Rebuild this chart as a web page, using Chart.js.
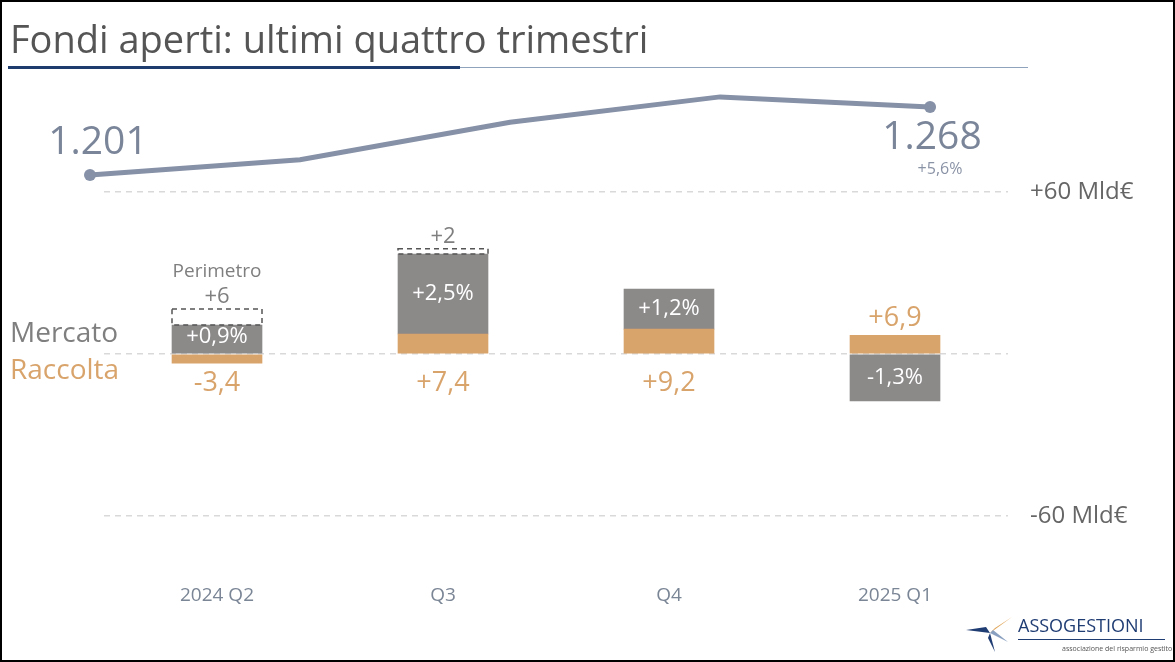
<!DOCTYPE html>
<html><head><meta charset="utf-8">
<script src="https://cdn.jsdelivr.net/npm/chart.js@4"></script>
<style>
html,body{margin:0;padding:0;background:#fff;}
#wrap{position:relative;width:1175px;height:662px;}
#frame{position:absolute;left:0;top:0;width:1171px;height:658px;border:2px solid #000;pointer-events:none;}
</style></head><body>
<div id="wrap"><canvas id="c" width="1175" height="662"></canvas><div id="frame"></div></div>
<script>
const categories = ['2024 Q2','Q3','Q4','2025 Q1'];
const raccolta = [-3.4, 7.4, 9.2, 6.9];
const mercatoStart = [0, 7.4, 9.2, 0];
const mercatoEnd = [10.7, 37.0, 24.0, -17.4];
const perimetro = [6, 2, null, null];
const mercatoPct = ['+0,9%','+2,5%','+1,2%','-1,3%'];
const raccoltaLabels = ['-3,4','+7,4','+9,2','+6,9'];
const patrimonio = [1201, 1216, 1253, 1278, 1268];
const yTicks = [-60, 0, 60];

const FONT = '"Open Sans", "Noto Sans", sans-serif';
const ORANGE = '#d9a46c', GRAY = '#8c8989', LINE = '#8691a7';

const labelsPlugin = {
  id: 'labels',
  afterDatasetsDraw(chart) {
    const ctx = chart.ctx;
    const mB = chart.getDatasetMeta(1).data;
    const rB = chart.getDatasetMeta(0).data;
    const pB = chart.getDatasetMeta(2).data;
    const lP = chart.getDatasetMeta(3).data;
    ctx.save();
    [lP[0], lP[lP.length - 1]].forEach(p => {
      ctx.beginPath(); ctx.arc(p.x, p.y, 6, 0, Math.PI * 2); ctx.fillStyle = LINE; ctx.fill();
    });
    pB.forEach((b, i) => {
      if (perimetro[i] == null) return;
      const w = b.width, top = Math.min(b.y, b.base), h = Math.abs(b.base - b.y);
      ctx.setLineDash([5, 4]); ctx.strokeStyle = '#555'; ctx.lineWidth = 1.5;
      ctx.strokeRect(b.x - w/2, top, w, h);
      ctx.setLineDash([]);
      ctx.fillStyle = '#7f7f7f'; ctx.textAlign = 'center'; ctx.textBaseline = 'bottom';
      ctx.font = '22px ' + FONT;
      ctx.fillText('+' + perimetro[i], b.x, top - 1);
      if (i === 0) { ctx.font = '19px ' + FONT; ctx.fillText('Perimetro', b.x, top - 28); }
    });
    ctx.textAlign = 'center'; ctx.textBaseline = 'middle';
    mB.forEach((b, i) => {
      ctx.fillStyle = '#fff'; ctx.font = '22px ' + FONT;
      ctx.fillText(mercatoPct[i], b.x, (b.y + b.base) / 2 + (i === 0 ? -2 : 0));
    });
    rB.forEach((b, i) => {
      ctx.fillStyle = ORANGE; ctx.font = '27px ' + FONT;
      const y = i === 3 ? 318 : 383;
      ctx.fillText(raccoltaLabels[i], b.x, y);
    });
    ctx.fillStyle = '#7a8599'; ctx.font = '39px ' + FONT;
    ctx.fillText('1.201', 98, 143);
    ctx.fillText('1.268', 932, 138);
    ctx.font = '16px ' + FONT; ctx.fillStyle = '#8a93a6';
    ctx.fillText('+5,6%', 940, 169);
    ctx.textAlign = 'left';
    ctx.font = '28px ' + FONT; ctx.fillStyle = '#7f7f7f';
    ctx.fillText('Mercato', 10, 334);
    ctx.fillStyle = ORANGE; ctx.fillText('Raccolta', 10, 371);
    ctx.fillStyle = '#555'; ctx.font = '38px ' + FONT;
    ctx.fillText('Fondi aperti: ultimi quattro trimestri', 10, 42);
    ctx.fillStyle = '#1f3c6e'; ctx.fillRect(8, 66, 452, 3);
    ctx.fillStyle = '#8fa3bd'; ctx.fillRect(460, 67, 568, 1);
    ctx.fillStyle = '#1f3c73'; ctx.font = '18px ' + FONT;
    ctx.fillText('ASSOGESTIONI', 1018, 627);
    ctx.fillStyle = '#1f3c73'; ctx.fillRect(1018, 639, 147, 1);
    ctx.font = '7px ' + FONT; ctx.fillStyle = '#555';
    ctx.fillText('associazione del risparmio gestito', 1062, 649);
    const star = (pts, col) => { ctx.beginPath(); ctx.moveTo(pts[0], pts[1]); for (let k = 2; k < pts.length; k += 2) ctx.lineTo(pts[k], pts[k+1]); ctx.closePath(); ctx.fillStyle = col; ctx.fill(); };
    star([990, 633, 1012, 617, 995, 628], '#e0a55a');
    star([990, 633, 966, 630, 986, 627], '#1f3c73');
    star([990, 633, 995, 652, 988, 638], '#1f3c73');
    star([990, 633, 1008, 642, 993, 630], '#8aa0c0');
    ctx.restore();
  }
};

new Chart(document.getElementById('c'), {
  data: {
    labels: categories,
    datasets: [
      { type: 'bar', data: raccolta.map(v => [0, v]), backgroundColor: ORANGE, barThickness: 90, grouped: false, order: 2 },
      { type: 'bar', data: mercatoStart.map((s, i) => [s, mercatoEnd[i]]), backgroundColor: GRAY, barThickness: 90, grouped: false, order: 3 },
      { type: 'bar', data: perimetro.map((p, i) => p == null ? null : [mercatoEnd[i], mercatoEnd[i] + p]), backgroundColor: 'rgba(255,255,255,0)', barThickness: 90, grouped: false, order: 4 },
      { type: 'line', data: patrimonio.map((v, i) => ({x: i, y: v})), xAxisID: 'x2', yAxisID: 'y2', borderColor: LINE, borderWidth: 5, pointRadius: 0, tension: 0, clip: false, order: 1 }
    ]
  },
  options: {
    responsive: false, animation: false,
    layout: { padding: { left: 104, top: 84, right: 0, bottom: 0 } },
    plugins: { legend: { display: false }, tooltip: { enabled: false } },
    scales: {
      x: { type: 'category', offset: true, grid: { display: false }, border: { display: false },
           ticks: { color: '#7a8595', font: { family: FONT, size: 19 }, padding: 6 },
           afterFit(s) { s.height = 92; } },
      x2: { type: 'linear', display: false, min: 0.0667, max: 4.371 },
      y: { position: 'right', min: -80, max: 100,
           afterBuildTicks(s) { s.ticks = yTicks.map(v => ({ value: v })); },
           grid: { color: '#d9d9d9', lineWidth: 1.5, tickLength: 0, drawTicks: false },
           border: { display: false, dash: [6, 5] },
           ticks: { color: '#666', font: { family: FONT, size: 24 }, padding: 22, callback: v => v === 0 ? '' : (v > 0 ? '+' : '') + v + ' Mld€' },
           afterFit(s) { s.width = 167; } },
      y2: { display: false, min: 811.8, max: 1290.7 }
    }
  },
  plugins: [labelsPlugin]
});
</script></body></html>
